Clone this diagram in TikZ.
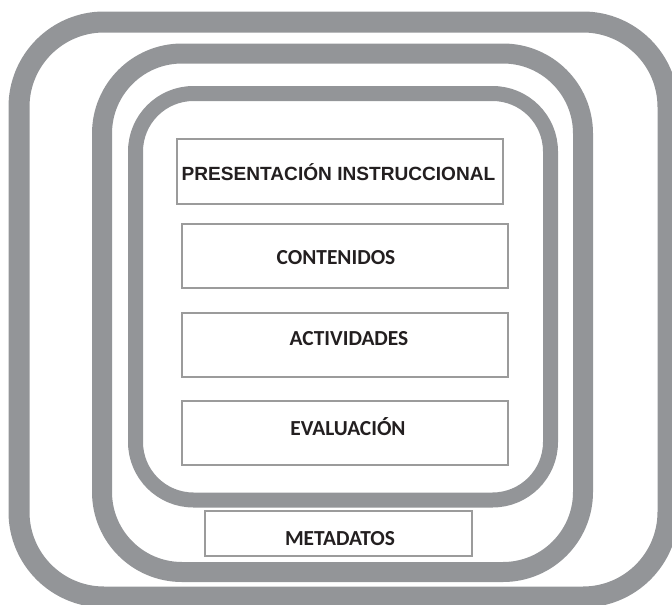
\documentclass[tikz,border=0pt]{standalone}
\usepackage{fontspec}
\setmainfont{Liberation Sans}
\newfontfamily\calib{Carlito}
\definecolor{ring}{HTML}{939598}
\definecolor{boxline}{HTML}{9B9B9B}
\definecolor{txt}{HTML}{231F20}
\begin{document}
\begin{tikzpicture}[x=1pt,y=-1pt,
  ringline/.style={draw=ring,line width=#1},
  boxnode/.style={draw=boxline,line width=2.6pt,fill=white,rectangle,inner sep=0pt},
  arialtxt/.style={font=\fontsize{19.1}{21}\selectfont\bfseries,text=txt,inner sep=0pt},
  calibtxt/.style={font=\calib\fontsize{21.4}{23}\selectfont\bfseries,text=txt,inner sep=0pt}]
\useasboundingbox (0,0) rectangle (672,605);
\clip (0,0) rectangle (672,605);
% rings
\draw[ringline=21pt,rounded corners=85pt] (19,22) rectangle (668,597);
\draw[ringline=20pt,rounded corners=80pt] (102,53.5) rectangle (583,572);
\draw[ringline=15pt,rounded corners=58pt] (135.5,93.5) rectangle (550.5,500);
% boxes
\node[boxnode,minimum width=326pt,minimum height=65pt] (pres) at (340,171.5) {};
\node[boxnode,minimum width=326pt,minimum height=64pt] (cont) at (345,256) {};
\node[boxnode,minimum width=326pt,minimum height=64pt] (act) at (345,345) {};
\node[boxnode,minimum width=326pt,minimum height=64pt] (eval) at (345,433) {};
\node[boxnode,minimum width=267pt,minimum height=45pt] (meta) at (338.5,533.5) {};
% labels
\node[arialtxt] (presT) at (338.5,172) {PRESENTACIÓN INSTRUCCIONAL};
\node[calibtxt] (contT) at (336,258) {CONTENIDOS};
\node[calibtxt] (actT) at (349,339) {ACTIVIDADES};
\node[calibtxt] (evalT) at (348,427) {EVALUACIÓN};
\node[calibtxt] (metaT) at (340,539) {METADATOS};
\end{tikzpicture}
\end{document}
